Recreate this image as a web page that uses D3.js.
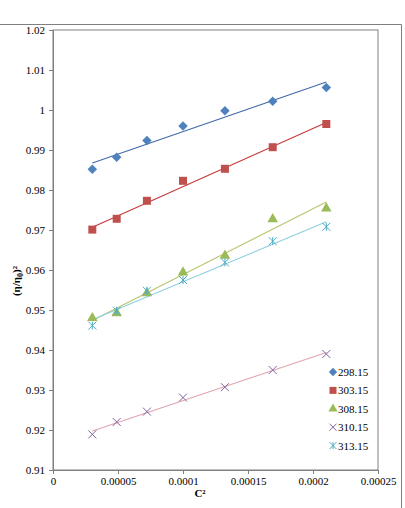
<!DOCTYPE html>
<html>
<head>
  <script src="https://d3js.org/d3.v7.min.js"></script>
  <style>
    body { margin: 0; background: #fff; }
    svg { display: block; }
  </style>
</head>
<body>
  <svg id="chart" width="405" height="508" font-family="Liberation Serif, DejaVu Serif, serif"></svg>

  <script>
    // C^2 values (shared by all temperatures)
    const cSquared = [0.00003025, 0.000049, 0.00007225, 0.0001, 0.00013225, 0.000169, 0.00021025];

    // (eta/eta0)^2 per temperature
    const temps = ['298.15', '303.15', '308.15', '310.15', '313.15'];
    const v298 = [0.9852, 0.9882, 0.9924, 0.9960, 0.9998, 1.0022, 1.0056];
    const v303 = [0.9701, 0.9728, 0.9773, 0.9823, 0.9853, 0.9907, 0.9965];
    const v308 = [0.9480, 0.9492, 0.9542, 0.9594, 0.9636, 0.9727, 0.9754];
    const v310 = [0.9189, 0.9220, 0.9246, 0.9281, 0.9307, 0.9350, 0.9390];
    const v313 = [0.9461, 0.9498, 0.9548, 0.9575, 0.9619, 0.9672, 0.9708];

    const xTicks = [0, 0.00005, 0.0001, 0.00015, 0.0002, 0.00025];
    const xTickLabels = ['0', '0.00005', '0.0001', '0.00015', '0.0002', '0.00025'];
    const yTicks = [0.91, 0.92, 0.93, 0.94, 0.95, 0.96, 0.97, 0.98, 0.99, 1, 1.01, 1.02];

    const markerColors = ['#4F81BD', '#C0504D', '#9BBB59', '#8064A2', '#4BACC6'];
    const lineColors = ['#3F6AA6', '#C8393A', '#B9C46E', '#E0A4B0', '#8FD0DE'];

    const series = [v298, v303, v308, v310, v313].map((vals, i) => ({
      name: temps[i],
      points: vals.map((v, j) => ({ x: cSquared[j], y: v }))
    }));

    const FONT = 'Liberation Serif, DejaVu Serif, serif';
    const svg = d3.select('#chart');
    const mLeft = 53, mRight = 378, mTop = 30, mBottom = 470;

    const x = d3.scaleLinear().domain([0, 0.00025]).range([mLeft, mRight]);
    const y = d3.scaleLinear().domain([0.91, 1.02]).range([mBottom, mTop]);

    // outer frame
    svg.append('path')
      .attr('d', `M0,24.5H401.5V508`)
      .attr('fill', 'none')
      .attr('stroke', '#7f7f7f')
      .attr('stroke-width', 1);

    // plot area border
    svg.append('rect')
      .attr('x', mLeft).attr('y', mTop)
      .attr('width', mRight - mLeft).attr('height', mBottom - mTop)
      .attr('fill', 'none')
      .attr('stroke', '#808080')
      .attr('stroke-width', 1);

    // axes
    const yAxis = d3.axisLeft(y).tickValues(yTicks).tickSize(4).tickPadding(4)
      .tickFormat(d => String(+d.toFixed(2)));
    const gy = svg.append('g').attr('transform', `translate(${mLeft},0)`).call(yAxis);

    const xAxis = d3.axisBottom(x).tickValues(xTicks).tickSize(4).tickPadding(3)
      .tickFormat((d, i) => xTickLabels[i]);
    const gx = svg.append('g').attr('transform', `translate(0,${mBottom})`).call(xAxis);

    [gy, gx].forEach(g => {
      g.attr('font-family', FONT).attr('font-size', 11);
      g.select('.domain').attr('stroke', '#808080');
      g.selectAll('.tick line').attr('stroke', '#808080');
      g.selectAll('.tick text').attr('fill', '#000');
    });

    // axis titles
    svg.append('text')
      .attr('x', 200).attr('y', 497)
      .attr('text-anchor', 'middle')
      .attr('font-family', FONT)
      .attr('font-size', 11).attr('font-weight', 'bold')
      .text('C²');

    const yTitle = svg.append('text')
      .attr('transform', 'translate(20,281) rotate(-90)')
      .attr('text-anchor', 'middle')
      .attr('font-family', FONT)
      .attr('font-size', 11).attr('font-weight', 'bold');
    yTitle.append('tspan').text('(η/η');
    yTitle.append('tspan').attr('font-size', 8).attr('dy', 3).text('0');
    yTitle.append('tspan').attr('dy', -3).text(')²');

    // trendlines (least squares)
    series.forEach((s, i) => {
      const xs = s.points.map(p => p.x), ys = s.points.map(p => p.y);
      const mx = d3.mean(xs), my = d3.mean(ys);
      const slope = d3.sum(xs, (xv, k) => (xv - mx) * (ys[k] - my)) / d3.sum(xs, xv => (xv - mx) ** 2);
      const icpt = my - slope * mx;
      const x0 = d3.min(xs), x1 = d3.max(xs);
      svg.append('line')
        .attr('x1', x(x0)).attr('y1', y(icpt + slope * x0))
        .attr('x2', x(x1)).attr('y2', y(icpt + slope * x1))
        .attr('stroke', lineColors[i])
        .attr('stroke-width', 1.1);
    });

    // marker drawing
    function drawMarker(g, i, size) {
      const c = markerColors[i];
      if (i === 0) {
        g.append('path').attr('d', d3.symbol(d3.symbolDiamond2, size * size * 0.9)()).attr('fill', c);
      } else if (i === 1) {
        g.append('rect').attr('x', -size / 2).attr('y', -size / 2)
          .attr('width', size).attr('height', size).attr('fill', c);
      } else if (i === 2) {
        g.append('path').attr('d', d3.symbol(d3.symbolTriangle, size * size * 0.75)()).attr('fill', c);
      } else if (i === 3) {
        const h = size / 2;
        g.append('path').attr('d', `M${-h},${-h}L${h},${h}M${-h},${h}L${h},${-h}`)
          .attr('stroke', c).attr('stroke-width', 1).attr('fill', 'none');
      } else {
        const h = size / 2;
        g.append('path').attr('d', `M${-h},${-h}L${h},${h}M${-h},${h}L${h},${-h}M0,${-h}V${h}`)
          .attr('stroke', c).attr('stroke-width', 1).attr('fill', 'none');
      }
    }

    series.forEach((s, i) => {
      svg.append('g').selectAll('g')
        .data(s.points)
        .join('g')
        .attr('transform', d => `translate(${x(d.x)},${y(d.y)})`)
        .each(function () { drawMarker(d3.select(this), i, 8); });
    });

    // legend
    const legend = svg.append('g').attr('transform', 'translate(333,372)');
    temps.forEach((t, i) => {
      const g = legend.append('g').attr('transform', `translate(0,${i * 18.4})`);
      drawMarker(g, i, 7);
      g.append('text')
        .attr('x', 5).attr('y', 4)
        .attr('font-family', FONT)
        .attr('font-size', 11)
        .text(t);
    });
  </script>
</body>
</html>
